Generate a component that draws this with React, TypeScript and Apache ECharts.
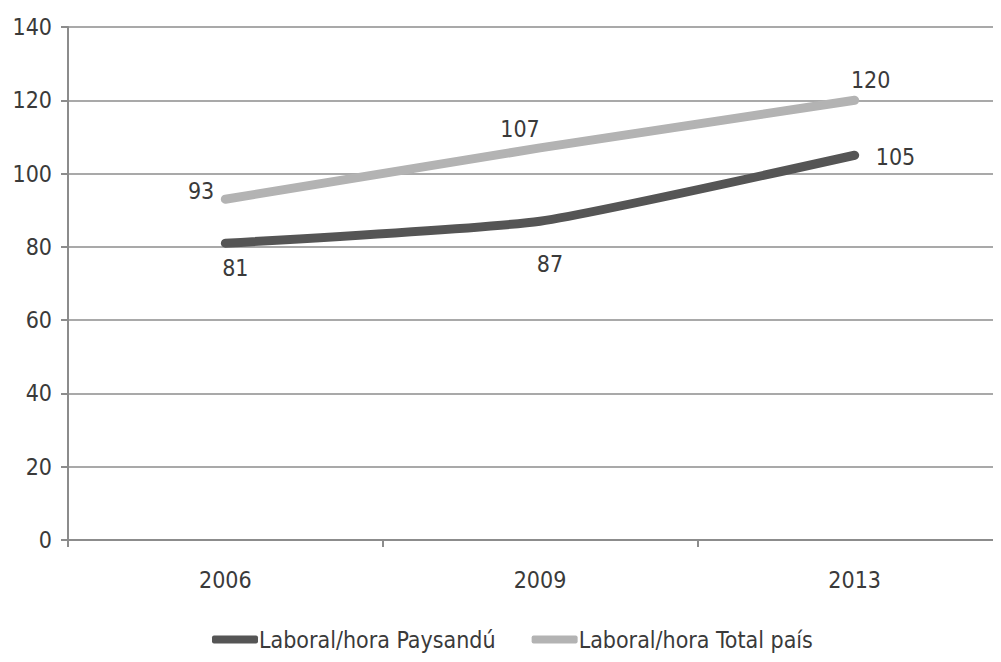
import React, { useEffect, useRef } from "react";
import * as echarts from "echarts";

const years = ["2006", "2009", "2013"];
const paysandu = [81, 87, 105];
const totalPais = [93, 107, 120];
const seriesNames = ["Laboral/hora Paysandú", "Laboral/hora Total país"];

const FONT = "'Liberation Sans Narrow', 'DejaVu Sans Condensed', 'Arial Narrow', sans-serif";
const TXT = "#3a3a3a";
const FS = 23;
const DARK = "#555555";
const LIGHT = "#b3b3b3";

export default function App() {
  const ref = useRef<HTMLDivElement>(null);
  useEffect(() => {
    if (!ref.current) return;
    const chart = echarts.init(ref.current, undefined, { renderer: "svg" });
    const lbl = (pos: any, offset: number[]) => ({
      show: true,
      position: pos,
      offset,
      fontFamily: FONT,
      fontSize: FS,
      color: TXT,
    });
    const payLabels = [
      lbl("bottom", [10, 8]),
      lbl("bottom", [10, 26]),
      lbl("right", [16, 2]),
    ];
    const totLabels = [
      lbl("left", [-6, -8]),
      lbl("top", [-20, -2]),
      lbl("top", [16, -4]),
    ];
    chart.setOption({
      animation: false,
      backgroundColor: "#ffffff",
      grid: { left: 68, top: 27, width: 944, height: 513, containLabel: false },
      legend: {
        top: 628,
        left: 212,
        width: 760,
        padding: 0,
        orient: "horizontal",
        itemWidth: 46,
        itemHeight: 8,
        itemGap: 36,
        icon: "roundRect",
        textStyle: { fontFamily: FONT, fontSize: FS, color: TXT, padding: [0, 0, 0, -4] },
        data: [
          { name: seriesNames[0], itemStyle: { color: DARK, opacity: 1 } },
          { name: seriesNames[1], itemStyle: { color: LIGHT, opacity: 1 } },
        ],
      },
      xAxis: {
        type: "category",
        data: years,
        boundaryGap: true,
        axisLine: { lineStyle: { color: "#8c8c8c", width: 2 } },
        axisTick: { show: true, length: 7, lineStyle: { color: "#8c8c8c", width: 2 } },
        axisLabel: { fontFamily: FONT, fontSize: FS, color: TXT, margin: 28 },
      },
      yAxis: {
        type: "value",
        min: 0,
        max: 140,
        interval: 20,
        axisLine: { show: true, lineStyle: { color: "#8c8c8c", width: 2 } },
        axisTick: { show: true, length: 7, lineStyle: { color: "#8c8c8c", width: 2 } },
        splitLine: { lineStyle: { color: "#8c8c8c", width: 1.5 } },
        axisLabel: { fontFamily: FONT, fontSize: FS, color: TXT, margin: 16 },
      },
      series: [
        {
          name: seriesNames[0],
          type: "line",
          smooth: 0.15,
          symbol: "circle",
          symbolSize: 0.1,
          showSymbol: true,
          itemStyle: { color: DARK },
          color: DARK,
          label: { show: true, fontFamily: FONT, fontSize: FS, color: TXT },
          lineStyle: { width: 9, cap: "round", join: "round", color: DARK },
          data: paysandu.map((v, i) => ({ value: v, label: payLabels[i] })),
        },
        {
          name: seriesNames[1],
          type: "line",
          symbol: "circle",
          symbolSize: 0.1,
          showSymbol: true,
          itemStyle: { color: LIGHT },
          color: LIGHT,
          label: { show: true, fontFamily: FONT, fontSize: FS, color: TXT },
          lineStyle: { width: 9, cap: "round", join: "round", color: LIGHT },
          data: totalPais.map((v, i) => ({ value: v, label: totLabels[i] })),
        },
      ],
    });
    return () => chart.dispose();
  }, []);
  return (
    <div style={{ width: 1001, height: 662, margin: -8, overflow: "hidden", position: "relative" }}>
      <div ref={ref} style={{ width: 1020, height: 662 }} />
    </div>
  );
}
